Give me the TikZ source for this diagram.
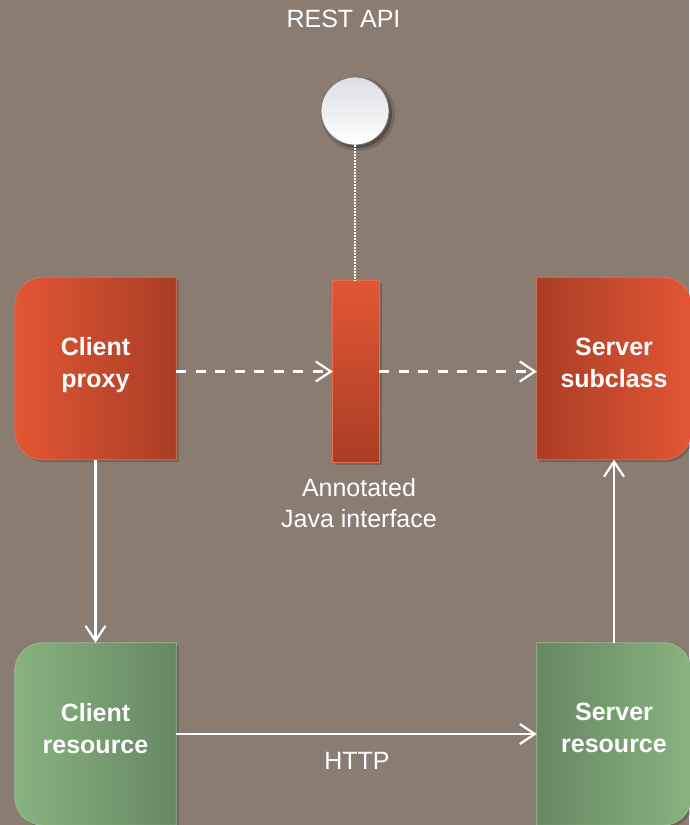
\documentclass[tikz,border=0pt]{standalone}
\usepackage{fontspec}
\setmainfont{Liberation Sans}
\definecolor{bgtaupe}{RGB}{139, 124, 114}
\definecolor{redlight}{RGB}{226, 86, 52}
\definecolor{reddark}{RGB}{170, 61, 38}
\definecolor{greenlight}{RGB}{136, 178, 128}
\definecolor{greendark}{RGB}{103, 135, 99}
\definecolor{apigray}{RGB}{222, 222, 228}
\usetikzlibrary{arrows.meta, positioning, calc}
\pgfdeclarelayer{background}
\pgfsetlayers{background,main}

% box outlines, rounded on one side only
\newcommand{\roundleft}[1]{(#1.north east) -- (#1.south east) -- ([xshift=28pt]#1.south west) arc[start angle=270, end angle=180, radius=28pt] -- ([yshift=-28pt]#1.north west) arc[start angle=180, end angle=90, radius=28pt] -- cycle}
\newcommand{\roundright}[1]{(#1.north west) -- (#1.south west) -- ([xshift=-28pt]#1.south east) arc[start angle=270, end angle=360, radius=28pt] -- ([yshift=-28pt]#1.north east) arc[start angle=0, end angle=90, radius=28pt] -- cycle}

\begin{document}
\begin{tikzpicture}[x=1pt, y=-1pt,
    boxtext/.style={minimum width=161pt, minimum height=182pt, inner sep=0pt, text depth=12pt, align=center, text=white, font=\fontsize{25}{32}\selectfont\bfseries},
    plaintext/.style={inner sep=0pt, align=center, text=white, font=\fontsize{25}{31}\selectfont},
    flow/.style={-{Straight Barb[length=15pt, width=20pt]}, line width=2.2pt, white},
    dashflow/.style={flow, dash pattern=on 10pt off 9.5pt},
    boxshadow/.style={black, opacity=0.2, transform canvas={shift={(2.5pt,-2.5pt)}}},
    boxline/.style={draw=#1!85!white, line width=0.8pt}]

  \useasboundingbox (0, 0) rectangle (689, 825);

  % boxes
  \node[boxtext] (proxy) at (95.5, 368.5) {Client\\proxy};
  \node[boxtext, minimum width=154pt] (subclass) at (614, 368.5) {Server\\subclass};
  \node[boxtext] (cresource) at (95.5, 734) {Client\\resource};
  \node[boxtext, minimum width=154pt] (sresource) at (614, 734) {Server\\resource};
  \node[minimum width=46pt, minimum height=181pt, inner sep=0pt] (iface) at (356, 371.5) {};
  \node[circle, minimum size=68pt, inner sep=0pt, top color=apigray, bottom color=white, draw=gray!90!black, line width=0.8pt] (api) at (355, 111) {};

  \begin{pgfonlayer}{background}
    \fill[bgtaupe] (0, 0) rectangle (689, 825);
    % shadows
    \fill[boxshadow] \roundleft{proxy};
    \fill[boxshadow] \roundright{subclass};
    \fill[boxshadow] \roundleft{cresource};
    \fill[boxshadow] \roundright{sresource};
    \fill[boxshadow] (iface.north west) rectangle (iface.south east);
    \fill[black, opacity=0.15] ([shift={(3pt,-3pt)}]api.center) circle[radius=37pt];
    \fill[black, opacity=0.25] ([shift={(3pt,-3pt)}]api.center) circle[radius=34pt];
    % shaded boxes
    \shade[left color=redlight, right color=reddark, boxline=redlight] \roundleft{proxy};
    \shade[left color=reddark, right color=redlight, boxline=redlight] \roundright{subclass};
    \shade[left color=greenlight, right color=greendark, boxline=greenlight] \roundleft{cresource};
    \shade[left color=greendark, right color=greenlight, boxline=greenlight] \roundright{sresource};
    \shade[top color=redlight, bottom color=reddark, boxline=redlight] (iface.north west) rectangle (iface.south east);
  \end{pgfonlayer}

  % labels
  \node[plaintext] (title) at (343.5, 19) {REST API};
  \node[plaintext, below=16pt of iface, xshift=3pt] (ifacelabel) {Annotated\\Java interface};
  \node[plaintext] (http) at (357, 760.5) {HTTP};

  % connectors
  \draw[white, line width=1.5pt, dash pattern=on 1.5pt off 1.5pt] (api.south) -- (api.south |- iface.north);
  \draw[dashflow] (proxy.east |- iface.west) -- (iface.west);
  \draw[dashflow] (iface.east) -- (iface.east -| subclass.west);
  \draw[flow] (proxy.south) -- (cresource.north);
  \draw[flow] (cresource.east) -- (sresource.west);
  \draw[flow] (sresource.north) -- (subclass.south);
\end{tikzpicture}
\end{document}
